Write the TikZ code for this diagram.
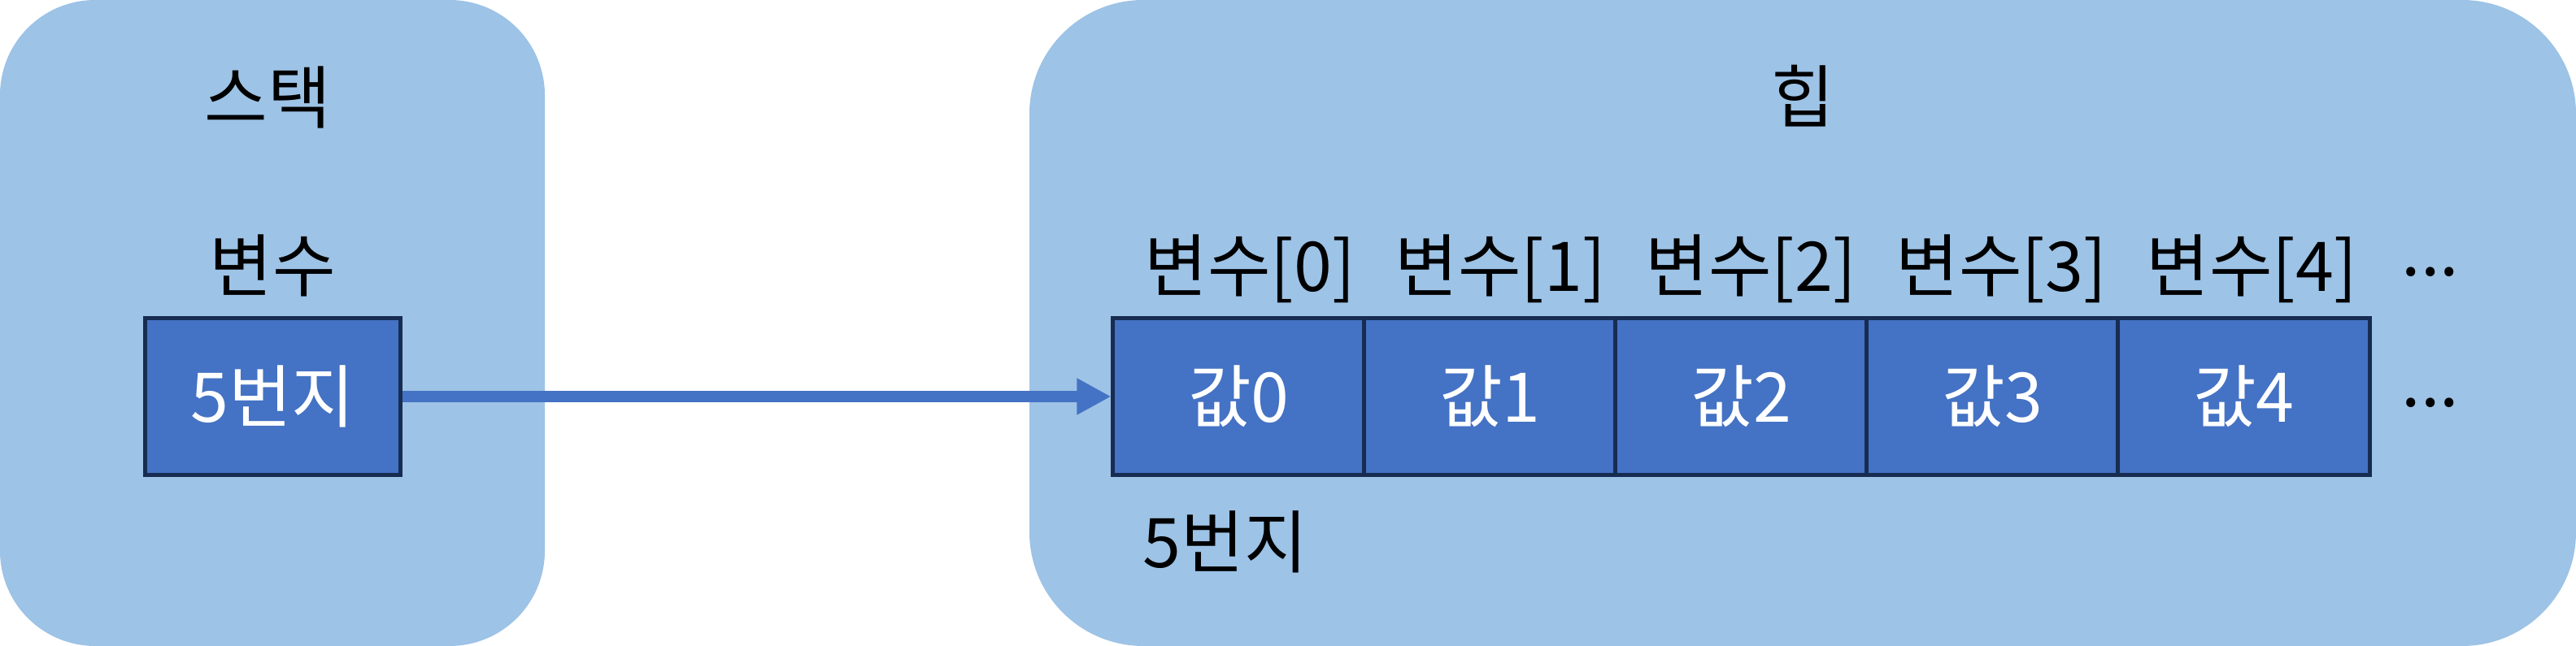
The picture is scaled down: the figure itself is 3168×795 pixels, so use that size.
\documentclass[tikz,border=0pt]{standalone}
\usepackage{fontspec}
\setmainfont{Noto Sans CJK KR}
\usetikzlibrary{arrows.meta}
\definecolor{areabg}{HTML}{9DC3E6}
\definecolor{cellfill}{HTML}{4472C4}
\definecolor{celledge}{HTML}{172C51}
\tikzset{
  area/.style={fill=areabg, draw=none},
  cell/.style={rectangle, fill=cellfill, draw=celledge, line width=1.4pt,
    minimum width=3.09cm, minimum height=1.92cm, inner sep=0pt,
    text=white, font=\fontsize{24}{28}\selectfont},
  lbl/.style={inner sep=0pt, text=black, font=\fontsize{24}{28}\selectfont},
  ptr/.style={draw=cellfill, line width=4pt, -{Triangle[length=12pt,width=12pt]}, shorten >=0pt}
}
\begin{document}
\begin{tikzpicture}[x=0.01cm,y=-0.01cm]
\useasboundingbox (0,0) rectangle (3168,795);
% areas
\fill[area, rounded corners=1.17cm] (0,0) rectangle (670,795);
\fill[area, rounded corners=1.4cm] (1266,0) rectangle (3168,795);
% stack
\node[lbl] (stackt) at (329,120) {스택};
\node[lbl] (varl) at (335,327) {변수};
\node[cell, minimum width=3.13cm] (var) at (335.5,488) {5번지};
% heap
\node[lbl] (heapt) at (2217,118) {힙};
\foreach \i in {0,...,4}{
  \node[cell] (c\i) at ({1523.5+309*\i},488) {값\i};
  \node[lbl] (l\i) at ({1537+308*\i},331) {변수[\i]};
}
\node[lbl, anchor=base] (dots1) at (2989,340) {...};
\node[lbl, anchor=base] (dots2) at (2989,501) {...};
\node[lbl] (addr) at (1507,667) {5번지};
% pointer
\draw[ptr] (var.east) -- (c0.west);
\end{tikzpicture}
\end{document}
